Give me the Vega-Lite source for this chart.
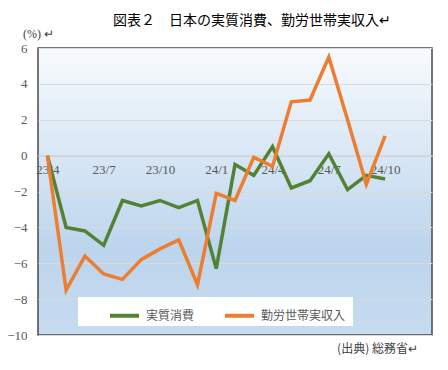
{
  "$schema": "https://vega.github.io/schema/vega-lite/v6.json",
  "width": 394,
  "height": 287,
  "autosize": "none",
  "padding": {"left": 38, "top": 48, "right": 16, "bottom": 35},
  "background": "white",
  "title": {
    "text": "図表２　日本の実質消費、勤労世帯実収入↵",
    "font": "Noto Sans CJK JP",
    "fontSize": 14,
    "fontWeight": "normal",
    "color": "#000000",
    "anchor": "middle",
    "dx": 17,
    "offset": -1
  },
  "config": {
    "view": {
      "stroke": "#4a4a4a",
      "strokeWidth": 1.5,
      "fill": {
        "gradient": "linear",
        "x1": 0, "y1": 0, "x2": 0, "y2": 1,
        "stops": [
          {"offset": 0, "color": "#f8fbfe"},
          {"offset": 0.7, "color": "#bcd5ed"},
          {"offset": 1, "color": "#c7dbf0"}
        ]
      }
    }
  },
  "data": {
    "values": [
      {"month": "23/4", "series": "実質消費", "value": 0},
      {"month": "23/5", "series": "実質消費", "value": -4.0},
      {"month": "23/6", "series": "実質消費", "value": -4.2},
      {"month": "23/7", "series": "実質消費", "value": -5.0},
      {"month": "23/8", "series": "実質消費", "value": -2.5},
      {"month": "23/9", "series": "実質消費", "value": -2.8},
      {"month": "23/10", "series": "実質消費", "value": -2.5},
      {"month": "23/11", "series": "実質消費", "value": -2.9},
      {"month": "23/12", "series": "実質消費", "value": -2.5},
      {"month": "24/1", "series": "実質消費", "value": -6.3},
      {"month": "24/2", "series": "実質消費", "value": -0.5},
      {"month": "24/3", "series": "実質消費", "value": -1.1},
      {"month": "24/4", "series": "実質消費", "value": 0.5},
      {"month": "24/5", "series": "実質消費", "value": -1.8},
      {"month": "24/6", "series": "実質消費", "value": -1.4},
      {"month": "24/7", "series": "実質消費", "value": 0.1},
      {"month": "24/8", "series": "実質消費", "value": -1.9},
      {"month": "24/9", "series": "実質消費", "value": -1.1},
      {"month": "24/10", "series": "実質消費", "value": -1.3},
      {"month": "23/4", "series": "勤労世帯実収入", "value": 0},
      {"month": "23/5", "series": "勤労世帯実収入", "value": -7.5},
      {"month": "23/6", "series": "勤労世帯実収入", "value": -5.6},
      {"month": "23/7", "series": "勤労世帯実収入", "value": -6.6},
      {"month": "23/8", "series": "勤労世帯実収入", "value": -6.9},
      {"month": "23/9", "series": "勤労世帯実収入", "value": -5.8},
      {"month": "23/10", "series": "勤労世帯実収入", "value": -5.2},
      {"month": "23/11", "series": "勤労世帯実収入", "value": -4.7},
      {"month": "23/12", "series": "勤労世帯実収入", "value": -7.2},
      {"month": "24/1", "series": "勤労世帯実収入", "value": -2.1},
      {"month": "24/2", "series": "勤労世帯実収入", "value": -2.5},
      {"month": "24/3", "series": "勤労世帯実収入", "value": -0.1},
      {"month": "24/4", "series": "勤労世帯実収入", "value": -0.6},
      {"month": "24/5", "series": "勤労世帯実収入", "value": 3.0},
      {"month": "24/6", "series": "勤労世帯実収入", "value": 3.1},
      {"month": "24/7", "series": "勤労世帯実収入", "value": 5.5},
      {"month": "24/8", "series": "勤労世帯実収入", "value": 2.0},
      {"month": "24/9", "series": "勤労世帯実収入", "value": -1.6},
      {"month": "24/10", "series": "勤労世帯実収入", "value": 1.1}
    ]
  },
  "mark": {"type": "line", "strokeWidth": 3.5, "strokeJoin": "miter", "strokeCap": "butt"},
  "encoding": {
    "x": {
      "field": "month",
      "type": "ordinal",
      "sort": null,
      "scale": {
        "type": "point",
        "padding": 0.5,
        "domain": ["23/4","23/5","23/6","23/7","23/8","23/9","23/10","23/11","23/12","24/1","24/2","24/3","24/4","24/5","24/6","24/7","24/8","24/9","24/10","24/11","24/12"]
      },
      "axis": {
        "values": ["23/4","23/7","23/10","24/1","24/4","24/7","24/10"],
        "offset": -179.4,
        "labelAngle": 0,
        "labelFont": "Liberation Serif",
        "labelFontSize": 13,
        "labelColor": "#595959",
        "labelPadding": 8,
        "ticks": false,
        "domainColor": "#cfcfcf",
        "domainWidth": 1.2,
        "grid": false,
        "title": "(出典) 総務省↵",
        "titleX": 339,
        "titleY": 193,
        "titleAlign": "center",
        "titleBaseline": "middle",
        "titleFont": "Noto Sans CJK JP",
        "titleFontSize": 12,
        "titleFontWeight": "normal",
        "titleColor": "#404040"
      }
    },
    "y": {
      "field": "value",
      "type": "quantitative",
      "scale": {"domain": [-10, 6], "nice": false, "zero": false},
      "axis": {
        "values": [-10, -8, -6, -4, -2, 0, 2, 4, 6],
        "domain": false,
        "ticks": false,
        "labelPadding": 11,
        "labelFont": "Liberation Serif",
        "labelFontSize": 13,
        "labelColor": "#595959",
        "gridColor": "#d9d9d9",
        "gridWidth": 1,
        "title": "(%) ↵",
        "titleAngle": 0,
        "titleX": 0,
        "titleY": -15,
        "titleAlign": "center",
        "titleBaseline": "middle",
        "titleFont": "Liberation Serif",
        "titleFontSize": 12,
        "titleFontWeight": "normal",
        "titleColor": "#404040"
      }
    },
    "color": {
      "field": "series",
      "type": "nominal",
      "scale": {"domain": ["実質消費", "勤労世帯実収入"], "range": ["#548235", "#ed7d31"]},
      "legend": {
        "title": "　",
        "titleOrient": "right",
        "titleFontSize": 22,
        "titlePadding": 6,
        "orient": "none",
        "direction": "horizontal",
        "legendX": 40,
        "legendY": 249,
        "fillColor": "white",
        "padding": 2,
        "symbolType": "stroke",
        "symbolSize": 841,
        "symbolStrokeWidth": 4,
        "symbolOffset": 28,
        "labelOffset": 5,
        "columnPadding": 0,
        "labelFont": "Noto Sans CJK JP",
        "labelFontSize": 12,
        "labelColor": "#595959"
      }
    }
  }
}
